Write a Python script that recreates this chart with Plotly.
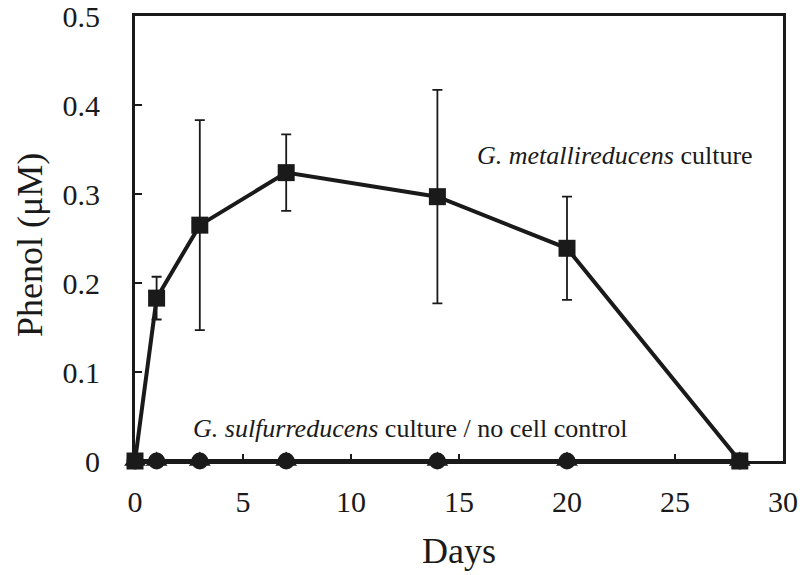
import plotly.graph_objects as go

days = [0, 1, 3, 7, 14, 20, 28]
metal = [0, 0.183, 0.265, 0.324, 0.297, 0.239, 0]
metal_err = [0, 0.024, 0.118, 0.043, 0.120, 0.058, 0]
sulf = [0, 0, 0, 0, 0, 0, 0]
nocell = [0, 0, 0, 0, 0, 0, 0]

x_ticks = [0, 5, 10, 15, 20, 25, 30]
y_ticks = [0, 0.1, 0.2, 0.3, 0.4, 0.5]
y_tick_text = ["0", "0.1", "0.2", "0.3", "0.4", "0.5"]

FONT = "Liberation Serif"
INK = "#1a1a1a"
W, H = 800, 575
PX0, PX1, PY0, PY1 = 135, 783, 16, 461  # plot area on screen
L, T = PX0, PY0
R, B = W - PX1, H - PY1
PW, PH = PX1 - PX0, PY1 - PY0


def fx(sx):
    return (sx - PX0) / PW


def fy(sy):
    return (PY1 - sy) / PH


fig = go.Figure()

fig.add_trace(go.Scatter(
    x=days, y=nocell, mode="lines+markers",
    line=dict(color=INK, width=4),
    marker=dict(symbol="triangle-up", size=19, color=INK),
    cliponaxis=False, showlegend=False))
fig.add_trace(go.Scatter(
    x=days, y=sulf, mode="lines+markers",
    line=dict(color=INK, width=4),
    marker=dict(symbol="circle", size=17, color=INK),
    cliponaxis=False, showlegend=False))
fig.add_trace(go.Scatter(
    x=days, y=metal, mode="lines+markers",
    line=dict(color=INK, width=4),
    marker=dict(symbol="square", size=17, color=INK),
    error_y=dict(type="data", array=metal_err, visible=True,
                 color=INK, thickness=1.8, width=5),
    cliponaxis=False, showlegend=False))

fig.add_annotation(x=fx(615), xref="paper", y=fy(155), yref="paper",
                   text="<i>G. metallireducens</i> culture",
                   showarrow=False, font=dict(family=FONT, size=26, color=INK),
                   xanchor="center", yanchor="middle")
fig.add_annotation(x=fx(410), xref="paper", y=fy(428), yref="paper",
                   text="<i>G. sulfurreducens</i> culture / no cell control",
                   showarrow=False, font=dict(family=FONT, size=26, color=INK),
                   xanchor="center", yanchor="middle")

# axis titles
fig.add_annotation(x=fx(459), xref="paper", y=fy(551), yref="paper",
                   text="Days", showarrow=False,
                   font=dict(family=FONT, size=36, color=INK),
                   xanchor="center", yanchor="middle")
fig.add_annotation(x=fx(30), xref="paper", y=fy(245), yref="paper",
                   text="Phenol (μM)", showarrow=False, textangle=-90,
                   font=dict(family=FONT, size=36, color=INK),
                   xanchor="center", yanchor="middle")

axis_common = dict(showline=True, linewidth=3, linecolor=INK, mirror=True,
                   ticks="inside", ticklen=7, tickwidth=2, tickcolor=INK,
                   showgrid=False, zeroline=False, automargin=False,
                   ticklabeloverflow="allow",
                   tickfont=dict(family=FONT, size=30, color=INK))

fig.update_xaxes(range=[0, 30], tickvals=x_ticks,
                 ticklabelstandoff=12, **axis_common)
fig.update_yaxes(range=[0, 0.5], tickvals=y_ticks, ticktext=y_tick_text,
                 ticklabelstandoff=26, **axis_common)

fig.update_layout(width=W, height=H, margin=dict(l=L, r=R, t=T, b=B),
                  plot_bgcolor="white", paper_bgcolor="white")

fig.write_html("out.html",
               config={"displayModeBar": False},
               post_script="document.body.style.margin='0';document.body.style.overflow='hidden';")
